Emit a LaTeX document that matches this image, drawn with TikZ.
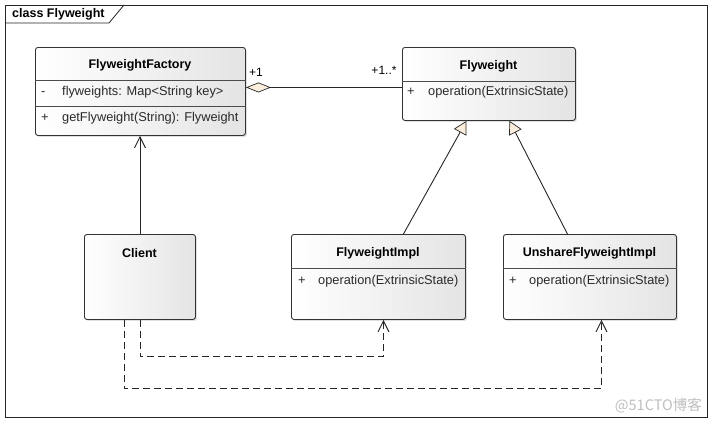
\documentclass[tikz,border=0pt]{standalone}
\usepackage{fontspec}
\setmainfont{Liberation Sans}
\newfontfamily\cjk{Noto Sans CJK SC}
\usetikzlibrary{arrows.meta,shadows}
\definecolor{beige}{HTML}{FBEEDC}
\definecolor{boxgray}{HTML}{E4E4E4}
\definecolor{txtgray}{HTML}{2A2A2A}
\begin{document}
\begin{tikzpicture}[x=1pt,y=-1pt,
  cls/.style={draw=black!80, line width=0.9pt, rounded corners=2.5pt,
    left color=white, right color=boxgray, anchor=north west, inner sep=0pt,
    drop shadow={shadow xshift=1.5pt, shadow yshift=-1.5pt, opacity=0.25}},
  ttl/.style={font=\fontsize{12.5}{14}\selectfont\bfseries, inner sep=0pt},
  attr/.style={font=\fontsize{12.8}{14}\selectfont, text=txtgray, inner sep=0pt, anchor=west},
  sep/.style={draw=black!70, line width=0.7pt},
  conn/.style={draw=black!85, line width=0.9pt},
  gen/.style={conn, -{Triangle[width=14pt,length=13pt,fill=beige,line width=0.7pt]}},
  dep/.style={conn, -{Straight Barb[length=11pt,width=11pt,line width=0.9pt]}},
  ddep/.style={dep, dash pattern=on 7pt off 4pt},
  agg/.style={conn, {Diamond[width=10pt,length=25pt,fill=beige,line width=0.7pt]}-},
  mult/.style={font=\fontsize{12}{14}\selectfont, inner sep=0pt}]
\useasboundingbox (0,0) rectangle (712,423);
\fill[white] (0,0) rectangle (712,423);
% frame
\draw[black!85, line width=0.8pt] (5,5) rectangle (707,417);
\draw[black!85, line width=0.8pt] (5,23) -- (109,23) -- (124,5);
\node[ttl, anchor=west] (frametitle) at (12,14) {class Flyweight};

% FlyweightFactory
\node[cls, minimum width=210pt, minimum height=88pt] (ff) at (35,47) {};
\draw[sep] ([yshift=-33pt]ff.north west) -- ([yshift=-33pt]ff.north east);
\draw[sep] ([yshift=-59pt]ff.north west) -- ([yshift=-59pt]ff.north east);
\node[ttl] (fft) at (140,65) {FlyweightFactory};
\node[attr] (ffa) at (41,92) {\makebox[21pt][l]{-}flyweights: Map<String key>};
\node[attr] (ffo) at (41,118) {\makebox[21pt][l]{+}getFlyweight(String): Flyweight};

% Flyweight
\node[cls, minimum width=173pt, minimum height=73pt] (fw) at (402,47) {};
\draw[sep] ([yshift=-34pt]fw.north west) -- ([yshift=-34pt]fw.north east);
\node[ttl] (fwt) at (488.5,66) {Flyweight};
\node[attr] (fwo) at (407,92) {\makebox[21pt][l]{+}operation(ExtrinsicState)};

% Client
\node[cls, minimum width=111pt, minimum height=85pt] (cl) at (84,234) {};
\node[ttl] (clt) at (139.5,253) {Client};

% FlyweightImpl
\node[cls, minimum width=174pt, minimum height=85pt] (fi) at (291,234) {};
\draw[sep] ([yshift=-34pt]fi.north west) -- ([yshift=-34pt]fi.north east);
\node[ttl] (fit) at (378,253) {FlyweightImpl};
\node[attr] (fio) at (298,281) {\makebox[20pt][l]{+}operation(ExtrinsicState)};

% UnshareFlyweightImpl
\node[cls, minimum width=173pt, minimum height=85pt] (un) at (503,234) {};
\draw[sep] ([yshift=-34pt]un.north west) -- ([yshift=-34pt]un.north east);
\node[ttl] (unt) at (589.5,253) {UnshareFlyweightImpl};
\node[attr] (uno) at (509,281) {\makebox[20pt][l]{+}operation(ExtrinsicState)};

% aggregation
\coordinate (aggstart) at ([yshift=4pt]ff.east);
\draw[agg] (aggstart) -- (aggstart -| fw.west);
\node[mult] (m1) at (256,72) {+1};
\node[mult] (m2) at (384,70) {+1..*};

% generalizations
\draw[gen] ([xshift=25pt]fi.north) -- ([xshift=-22.5pt]fw.south);
\draw[gen] ([xshift=-22.5pt]un.north) -- ([xshift=20.5pt]fw.south);

% client -> factory
\draw[dep] (cl.north) -- (ff.south -| cl.north);

% dependencies
\draw[ddep] ([xshift=0.5pt]cl.south) -- ++(0,37) -| ([xshift=5pt]fi.south);
\draw[ddep] ([xshift=-15.5pt]cl.south) -- ++(0,69) -| ([xshift=11.5pt]un.south);

% watermark
\node[font=\cjk\fontsize{14.5}{16}\selectfont, text=black!25, inner sep=0pt, anchor=east] (wm) at (702,406) {@51CTO博客};
\end{tikzpicture}
\end{document}
